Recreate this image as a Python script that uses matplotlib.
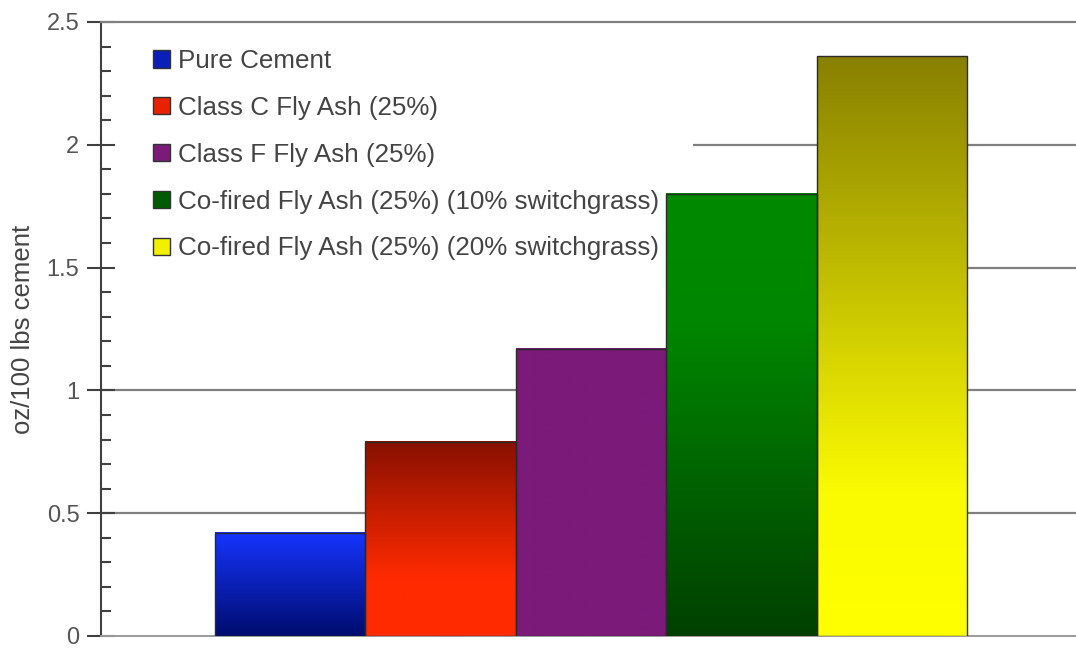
import numpy as np
import matplotlib
matplotlib.use("Agg")
import matplotlib.pyplot as plt
from matplotlib.colors import LinearSegmentedColormap
from matplotlib.patches import Patch, Rectangle
from matplotlib.ticker import MultipleLocator

plt.rcParams["font.family"] = ["Liberation Sans", "DejaVu Sans"]

# Admixture demand per mix (oz/100 lbs cement)
labels = [
    "Pure Cement",
    "Class C Fly Ash (25%)",
    "Class F Fly Ash (25%)",
    "Co-fired Fly Ash (25%) (10% switchgrass)",
    "Co-fired Fly Ash (25%) (20% switchgrass)",
]
values = [0.42, 0.79, 1.17, 1.80, 2.36]
y_ticks = [0, 0.5, 1, 1.5, 2, 2.5]
y_tick_labels = ["0", "0.5", "1", "1.5", "2", "2.5"]

# vertical colour ramps for each bar, listed bottom -> top
ramps = [
    [(0.0, "#000c6e"), (1.0, "#1634ff")],
    [(0.0, "#ff2a00"), (0.3, "#ff2a00"), (1.0, "#881000")],
    [(0.0, "#7b1a78"), (1.0, "#7b1a78")],
    [(0.0, "#004000"), (0.7, "#008600"), (1.0, "#008a00")],
    [(0.0, "#ffff00"), (0.25, "#fafa00"), (1.0, "#888000")],
]
swatches = ["#0a1eb8", "#e82200", "#7b1a78", "#005a00", "#f0f000"]

W, H = 1076, 648
fig = plt.figure(figsize=(W / 100, H / 100), dpi=100)
ax = fig.add_axes([101 / W, 12 / H, 1 - 101 / W, 614 / H])

x = np.arange(len(values))
bars = ax.bar(x, values, width=1.0, facecolor="none", edgecolor="#2a2a2a",
              linewidth=1.0, zorder=3)

grad = np.linspace(0, 1, 256).reshape(-1, 1)
for rect, stops in zip(bars, ramps):
    cmap = LinearSegmentedColormap.from_list("ramp", stops)
    x0, w, h = rect.get_x(), rect.get_width(), rect.get_height()
    ax.imshow(grad, cmap=cmap, extent=[x0, x0 + w, 0, h], origin="lower",
              aspect="auto", interpolation="bilinear", zorder=2.8)

ax.set_xlim(-1.258, 5.225)
ax.set_ylim(0, 2.5)

# horizontal rules at each major value (kept under the legend backing)
for yv in y_ticks[1:-1]:
    ax.axhline(yv, color="#808080", linewidth=1.6, zorder=1)

ax.spines["right"].set_visible(False)
ax.spines["top"].set_color("#808080")
ax.spines["top"].set_linewidth(1.6)
ax.spines["bottom"].set_color("#9a9a9a")
ax.spines["bottom"].set_linewidth(1.4)
ax.spines["left"].set_color("#404040")
ax.spines["left"].set_linewidth(1.5)

ax.set_xticks([])
ax.set_yticks(y_ticks)
ax.set_yticklabels(y_tick_labels)
ax.yaxis.set_minor_locator(MultipleLocator(0.1))
ax.tick_params(axis="y", which="major", direction="inout", length=20,
               width=1.5, color="#404040", labelsize=17,
               labelcolor="#555555", pad=5.5)
ax.tick_params(axis="y", which="minor", direction="in", length=7,
               width=1.5, color="#404040")

ax.set_ylabel("oz/100 lbs cement", fontsize=18.5, color="#444444")
ax.yaxis.set_label_coords(-0.068, 0.5)

# white backing behind the legend block
ax.add_patch(Rectangle((0, 0.572), 0.607, 0.42, transform=ax.transAxes,
                       facecolor="white", edgecolor="none", zorder=1.5))

handles = [Patch(facecolor=c, edgecolor="#333333", linewidth=1.0)
           for c in swatches]
leg = ax.legend(handles, labels, loc="upper left",
                bbox_to_anchor=(0.0533, 0.956), frameon=False, fontsize=18.7,
                handlelength=0.65, handleheight=0.65, handletextpad=0.3,
                labelspacing=0.88, borderaxespad=0, borderpad=0)
for t in leg.get_texts():
    t.set_color("#444444")
leg.set_zorder(5)

fig.savefig("out.png", dpi=100)
